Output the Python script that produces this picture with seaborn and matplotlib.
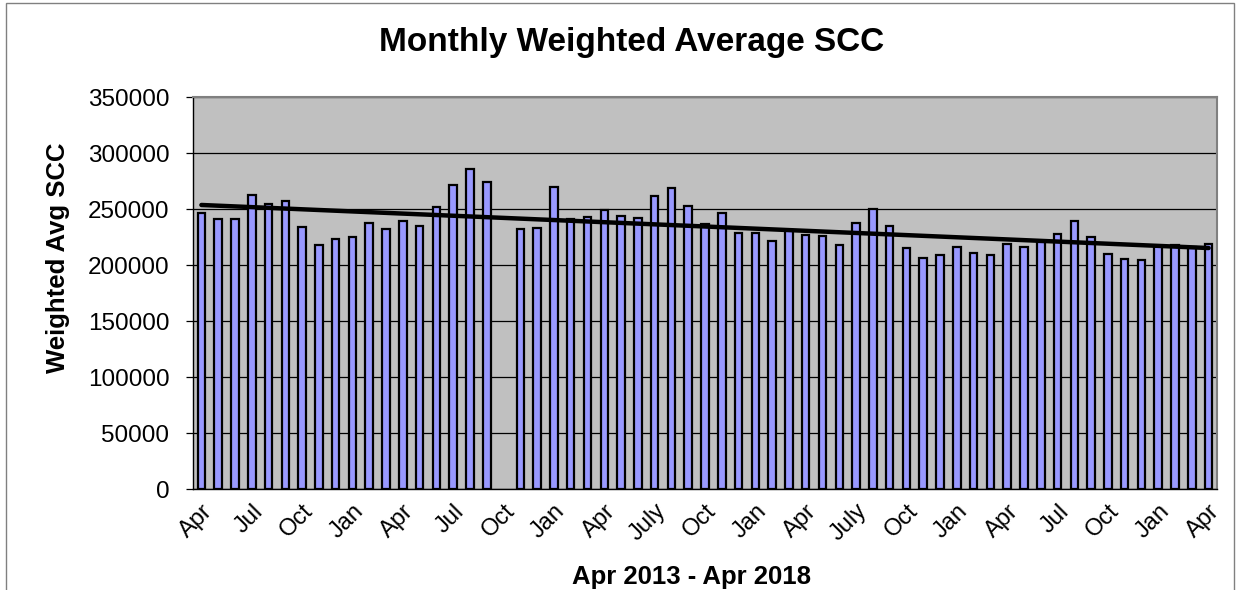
"""Monthly weighted average SCC, Apr 2013 - Apr 2018, with linear trend."""

import numpy as np
import pandas as pd
import matplotlib
matplotlib.use("Agg")
import matplotlib.pyplot as plt
import seaborn as sns

# one entry per month, Apr 2013 .. Apr 2018 (Oct 2014 has no data)
months = pd.date_range("2013-04-01", "2018-04-01", freq="MS")
month_keys = [d.strftime("%b %Y") for d in months]

scc = [
    246200, 241500, 240900, 262400, 254500, 257400, 233700, 217800, 223100, 225100,
    237900, 231700, 239100, 234400, 252100, 271700, 286100, 274300, np.nan, 231700,
    233400, 269300, 241400, 242600, 249400, 243800, 241700, 261600, 268400, 252700,
    236400, 246500, 228400, 228700, 221600, 231000, 226600, 226000, 218100, 237300,
    250000, 235200, 215400, 206200, 208900, 216300, 210700, 208900, 218400, 216300,
    220700, 228100, 239700, 225200, 209800, 205000, 204100, 217000, 217800, 216000,
    218400,
]

tick_labels = ["Apr", "Jul", "Oct", "Jan", "Apr", "Jul", "Oct", "Jan", "Apr", "July", "Oct",
               "Jan", "Apr", "July", "Oct", "Jan", "Apr", "Jul", "Oct", "Jan", "Apr"]

df = pd.DataFrame({"month": month_keys, "scc": scc})

sns.set_style("white")
plt.rcParams["font.family"] = ["Liberation Sans", "DejaVu Sans"]
plt.rcParams.update({"text.color": "black", "xtick.color": "black",
                     "ytick.color": "black", "axes.labelcolor": "black"})

fig = plt.figure(figsize=(12.38, 5.9), dpi=100)
ax = fig.add_axes([193 / 1238, 1 - 489 / 590, (1217 - 193) / 1238, (489 - 97) / 590])

# figure border
fig.patches.append(plt.Rectangle((0.005, -0.01), 0.992, 1.005, transform=fig.transFigure,
                                 fill=False, edgecolor="#808080", linewidth=1))

ax.set_facecolor("#C0C0C0")
sns.barplot(data=df, x="month", y="scc", order=month_keys, color="#9999FF",
            saturation=1, width=0.45, edgecolor="black", linewidth=1.6, ax=ax)

# linear trend (fit on available months)
xs = np.arange(len(scc))
ok = ~np.isnan(df["scc"].values)
slope, icpt = np.polyfit(xs[ok], df["scc"].values[ok], 1)
sns.lineplot(x=xs, y=slope * xs + icpt, color="black", linewidth=3.2, ax=ax)

ax.set_xlim(-0.5, len(scc) - 0.5)
ax.set_ylim(0, 350000)
ax.set_yticks(np.arange(0, 350001, 50000))
ax.yaxis.grid(True, color="black", linewidth=0.9)
ax.set_axisbelow(True)

ax.set_xticks(xs[::3])
ax.set_xticklabels(tick_labels, rotation=45, ha="right", rotation_mode="anchor", fontsize=17)
ax.set_xticks(np.arange(-0.5, len(scc), 1), minor=True)
ax.tick_params(axis="x", which="major", length=0, pad=8)
ax.tick_params(axis="x", which="minor", length=5, width=0.9, color="black", direction="out")
ax.tick_params(axis="y", length=5, width=0.9, color="black", direction="out",
               labelsize=17.5, pad=12)
ax.tick_params(axis="y", which="major", left=True)

for side in ["left", "bottom"]:
    ax.spines[side].set_color("black")
    ax.spines[side].set_linewidth(1.0)
for side in ["top", "right"]:
    ax.spines[side].set_color("#808080")
    ax.spines[side].set_linewidth(1.5)

ax.set_xlabel("")
ax.set_ylabel("")
fig.text(0.51, 1 - 42 / 590, "Monthly Weighted Average SCC", fontsize=24, fontweight="bold",
         ha="center", va="center")
fig.text(58 / 1238, 1 - 258 / 590, "Weighted Avg SCC", fontsize=18.5, fontweight="bold",
         rotation=90, ha="center", va="center")
fig.text(692 / 1238, 1 - 577 / 590, "Apr 2013 - Apr 2018", fontsize=18.5, fontweight="bold",
         ha="center", va="center")

fig.savefig("out.png", dpi=100)
